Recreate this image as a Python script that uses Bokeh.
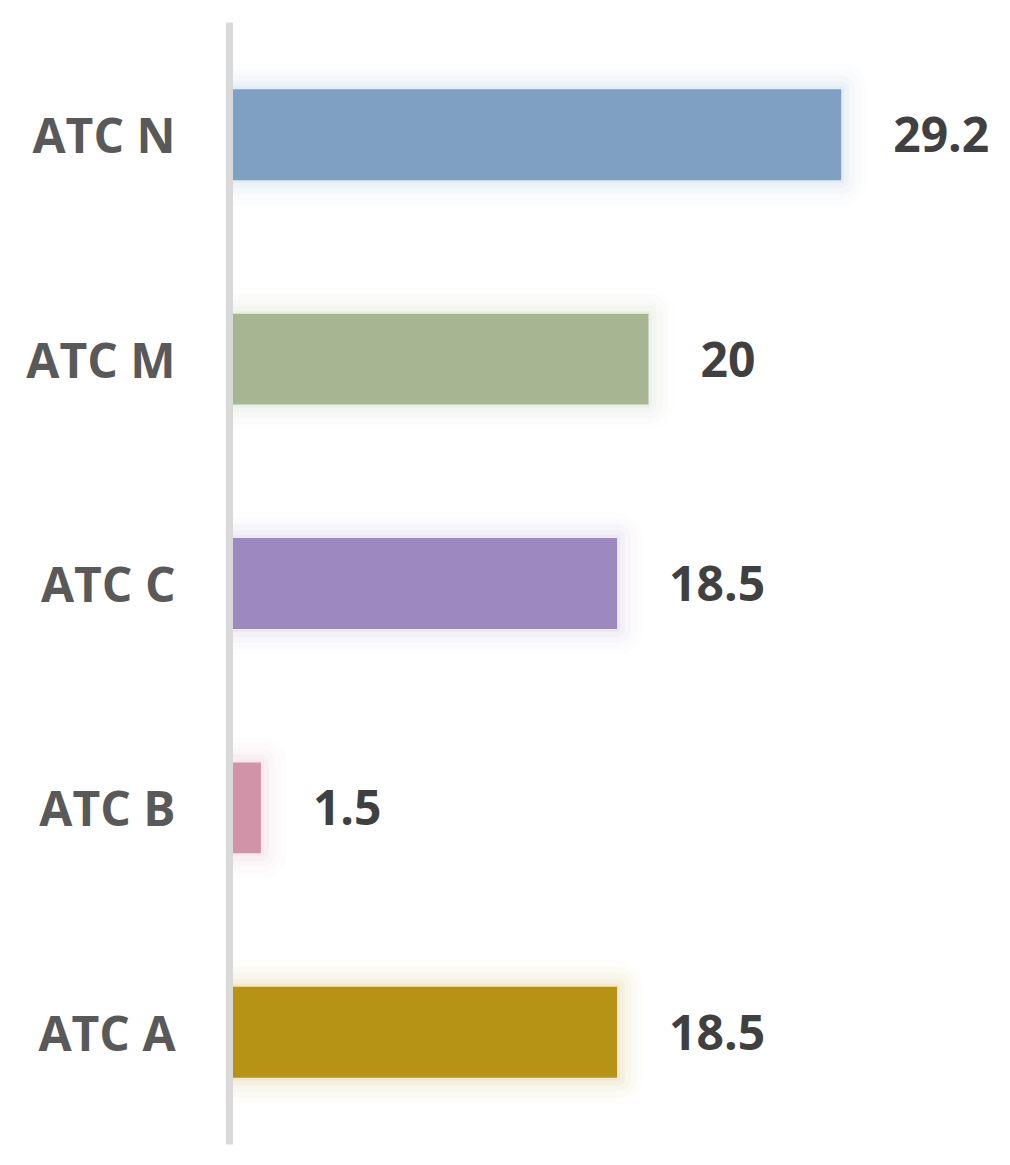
from bokeh.plotting import figure
from bokeh.models import Range1d, FactorRange, ColumnDataSource
from bokeh.core.properties import value
from bokeh.embed import file_html
from bokeh.resources import INLINE

categories = ["ATC A", "ATC B", "ATC C", "ATC M", "ATC N"]
values = [18.5, 1.5, 18.5, 20, 29.2]
labels = ["18.5", "1.5", "18.5", "20", "29.2"]
colors = ["#b69315", "#d193a8", "#9e88c0", "#a6b592", "#7f9fc3"]

src = ColumnDataSource(dict(cat=categories, val=values, lab=labels, col=colors))

p = figure(width=1002, height=1157, output_backend="svg", toolbar_location=None,
           y_range=FactorRange(factors=categories, range_padding=0),
           x_range=Range1d(0, 36.9),
           min_border_left=229, min_border_right=0, min_border_top=22, min_border_bottom=13)
p.outline_line_color = None
p.xgrid.visible = False
p.ygrid.visible = False
p.xaxis.visible = False

# soft glow
for lw, a in [(52, 0.018), (40, 0.025), (28, 0.035), (16, 0.05), (6, 0.07)]:
    p.hbar(y="cat", right="val", left=0, height=0.405, source=src,
           fill_alpha=0, line_color="col", line_alpha=a, line_width=lw, line_join="round")

p.hbar(y="cat", right="val", left=0, height=0.405, source=src,
       fill_color="col", line_color=None)

p.text(x="val", y="cat", text="lab", source=src, x_offset=52,
       text_align="left", text_baseline="middle",
       text_font=value("Open Sans"), text_font_style="bold",
       text_font_size="48px", text_color="#404040")

ax = p.yaxis[0]
ax.axis_line_color = "#d9d9d9"
ax.axis_line_width = 7
ax.major_tick_line_color = None
ax.minor_tick_line_color = None
ax.major_label_standoff = 48
ax.major_label_text_font = "Open Sans"
ax.major_label_text_font_style = "bold"
ax.major_label_text_font_size = "48px"
ax.major_label_text_color = "#595959"

open("out.html", "w").write(file_html(p, INLINE))
